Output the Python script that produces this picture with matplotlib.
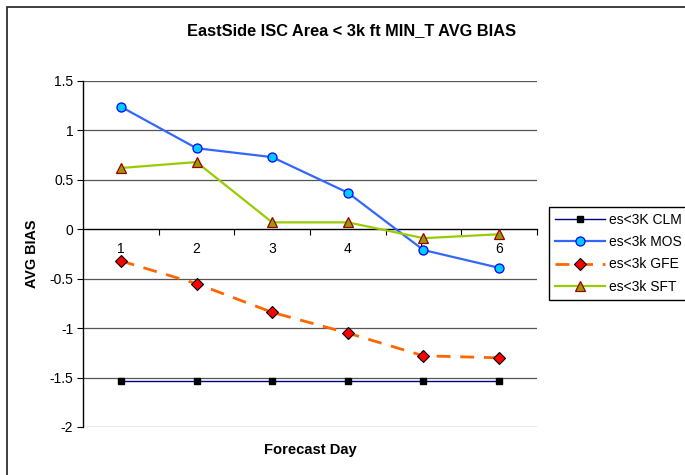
import matplotlib
matplotlib.use("Agg")
import matplotlib.pyplot as plt
from matplotlib.patches import Rectangle

plt.rcParams['font.family'] = ['Liberation Sans', 'DejaVu Sans']

days = [1, 2, 3, 4, 5, 6]
day_labels = ["1", "2", "3", "4", "5", "6"]
clm = [-1.53, -1.53, -1.53, -1.53, -1.53, -1.53]
mos = [1.24, 0.82, 0.73, 0.37, -0.21, -0.39]
gfe = [-0.32, -0.55, -0.84, -1.05, -1.28, -1.30]
sft = [0.62, 0.68, 0.07, 0.07, -0.09, -0.05]
yticks = [-2, -1.5, -1, -0.5, 0, 0.5, 1, 1.5]
ytick_labels = ["-2", "-1.5", "-1", "-0.5", "0", "0.5", "1", "1.5"]
series_names = ["es<3K CLM", "es<3k MOS", "es<3k GFE", "es<3k SFT"]
title = "EastSide ISC Area < 3k ft MIN_T AVG BIAS"

W, H = 685, 475
fig = plt.figure(figsize=(W / 100, H / 100), dpi=100)
fig.patch.set_facecolor("white")

# outer chart frame
fig.patches.append(Rectangle((7 / W, -0.1), 1.2, (H - 7) / H + 0.1,
                             transform=fig.transFigure, fill=False,
                             edgecolor="#303030", linewidth=1.3, zorder=0))

ax = fig.add_axes([83 / W, (H - 427) / H, (537 - 83) / W, (427 - 81) / H])
ax.set_xlim(0.5, 6.5)
ax.set_ylim(-2, 1.5)

# gridlines
for y in yticks:
    if y != 0:
        ax.axhline(y, color="#555555", linewidth=0.9, zorder=1)

ax.plot(days, clm, color="#000080", linewidth=1.0, marker="s", markersize=4.5,
        markerfacecolor="black", markeredgecolor="black", label=series_names[0], zorder=3)
ax.plot(days, mos, color="#3366FF", linewidth=1.6, marker="o", markersize=6.5,
        markerfacecolor="#00CCFF", markeredgecolor="#0000FF", markeredgewidth=0.9,
        label=series_names[1], zorder=4)
ax.plot(days, gfe, color="#FF6600", linewidth=2.0, linestyle=(0, (5, 3.5)), marker="D",
        markersize=6.5, markerfacecolor="#FF0000", markeredgecolor="black",
        markeredgewidth=0.8, label=series_names[2], zorder=4)
ax.plot(days, sft, color="#99CC00", linewidth=1.6, marker="^", markersize=7.5,
        markerfacecolor="#999900", markeredgecolor="#990000", markeredgewidth=0.9,
        label=series_names[3], zorder=4)

# spines
ax.spines['top'].set_visible(False)
ax.spines['right'].set_visible(False)
ax.spines['bottom'].set_position(('data', 0))
ax.spines['bottom'].set_color("black")
ax.spines['bottom'].set_linewidth(1.0)
ax.spines['left'].set_color("black")
ax.spines['left'].set_linewidth(1.0)

ax.set_yticks(yticks)
ax.set_yticklabels(ytick_labels, fontsize=10)
ax.tick_params(axis='y', direction='out', length=4, width=0.8, pad=3)

ax.set_xticks(days)
ax.set_xticklabels(day_labels, fontsize=10)
ax.set_xticks([1.5, 2.5, 3.5, 4.5, 5.5, 6.5], minor=True)
ax.tick_params(axis='x', which='major', length=0, pad=9)
ax.tick_params(axis='x', which='minor', direction='out', length=4, width=0.8)

fig.text(352 / W, 1 - 31 / H, title, ha="center", va="center",
         fontsize=11.8, fontweight="bold")
fig.text(32 / W, 1 - 254 / H, "AVG BIAS", ha="center", va="center",
         rotation=90, fontsize=10.4, fontweight="bold")
fig.text(310 / W, 1 - 450 / H, "Forecast Day", ha="center", va="center",
         fontsize=10.6, fontweight="bold")

leg = fig.legend(loc="upper left", bbox_to_anchor=(549 / W, 1 - 207 / H),
                 fontsize=10, frameon=True, fancybox=False, framealpha=1,
                 edgecolor="black", handlelength=3.6, handletextpad=0.3,
                 labelspacing=0.6, borderpad=0.42, borderaxespad=0)
leg.get_frame().set_linewidth(1.0)

fig.savefig("out.png", dpi=100)
